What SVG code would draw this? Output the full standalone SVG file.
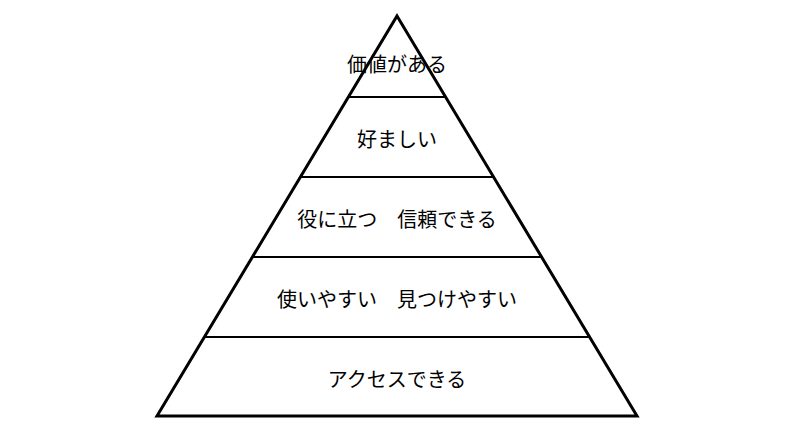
<svg xmlns="http://www.w3.org/2000/svg" width="800" height="430" viewBox="0 0 800 430">
<style>
.t{font-family:"Noto Sans CJK JP","Noto Sans CJK SC",sans-serif;font-size:20px;fill:#000;text-anchor:middle;dominant-baseline:central}
.o{fill:#fff;stroke:#000;stroke-width:3;stroke-linejoin:miter}
.l{stroke:#000;stroke-width:2}
</style>
<rect width="800" height="430" fill="#fff"/>
<g id="pyramid"><polygon class="o" points="397,16 637,416 157,416"/></g>
<g id="connectors">
<line class="l" x1="348" y1="97" x2="446" y2="97"/>
<line class="l" x1="300" y1="177" x2="494" y2="177"/>
<line class="l" x1="252" y1="257" x2="542" y2="257"/>
<line class="l" x1="204" y1="337" x2="590" y2="337"/>
</g>
<g id="level5"><text class="t" x="397" y="63">価値がある</text></g>
<g id="level4"><text class="t" x="397" y="138">好ましい</text></g>
<g id="level3"><text class="t" x="397" y="218">役に立つ　信頼できる</text></g>
<g id="level2"><text class="t" x="397" y="298">使いやすい　見つけやすい</text></g>
<g id="level1"><text class="t" x="397" y="378">アクセスできる</text></g>
</svg>
